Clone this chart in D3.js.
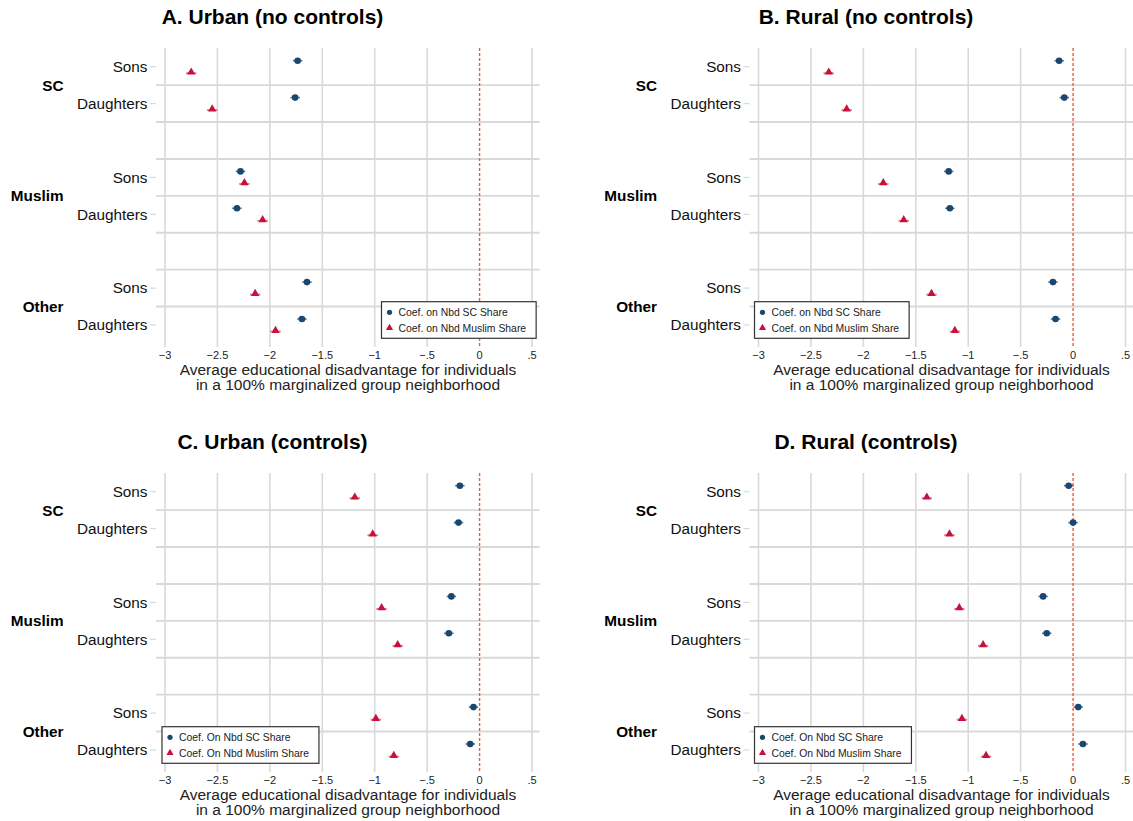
<!DOCTYPE html>
<html>
<head>
<meta charset="utf-8">
<script src="https://cdn.jsdelivr.net/npm/d3@7"></script>
<style>
  html, body { margin: 0; padding: 0; background: #fff; }
  svg { display: block; font-family: "Liberation Sans", Arial, Helvetica, sans-serif; }
</style>
</head>
<body>
<svg id="chart" width="1133" height="821"></svg>
<script>
// ---------------- DATA ----------------
const groups = ["SC", "Muslim", "Other"];
const rowLabels = ["Sons", "Daughters"];
const xTicks = [-3, -2.5, -2, -1.5, -1, -0.5, 0, 0.5];
const xTickLabels = ["\u22123", "\u22122.5", "\u22122", "\u22121.5", "\u22121", "\u2212.5", "0", ".5"];
const panelTitles = ["A. Urban (no controls)", "B. Rural (no controls)", "C. Urban (controls)", "D. Rural (controls)"];
const legendNoControls = ["Coef. on Nbd SC Share", "Coef. on Nbd Muslim Share"];
const legendControls = ["Coef. On Nbd SC Share", "Coef. On Nbd Muslim Share"];
const axisTitle = ["Average educational disadvantage for individuals", "in a 100% marginalized group neighborhood"];

// order: SC Sons, SC Daughters, Muslim Sons, Muslim Daughters, Other Sons, Other Daughters
const urbanNoCtrlSC     = [-1.735, -1.759, -2.280, -2.314, -1.646, -1.694];
const urbanNoCtrlMuslim = [-2.750, -2.550, -2.243, -2.069, -2.140, -1.946];
const ruralNoCtrlSC     = [-0.133, -0.084, -1.186, -1.175, -0.192, -0.167];
const ruralNoCtrlMuslim = [-2.330, -2.159, -1.810, -1.615, -1.350, -1.127];
const urbanCtrlSC       = [-0.188, -0.201, -0.269, -0.293, -0.058, -0.089];
const urbanCtrlMuslim   = [-1.190, -1.019, -0.934, -0.781, -0.989, -0.818];
const ruralCtrlSC       = [-0.042, 0.000, -0.286, -0.251, 0.049, 0.094];
const ruralCtrlMuslim   = [-1.395, -1.179, -1.085, -0.858, -1.060, -0.830];
// approximate 95% CI half-widths
const ciSC     = [0.045, 0.045, 0.045, 0.045, 0.045, 0.045];
const ciMuslim = [0.05, 0.05, 0.05, 0.05, 0.05, 0.05];

// ---------------- STYLE / LAYOUT ----------------
const BLUE = "#1a476f";
const RED = "#c8103c";
const GRID = "#d9d9d9";
const panels = [
  { title: panelTitles[0], sc: urbanNoCtrlSC, mu: urbanNoCtrlMuslim, legend: legendNoControls, ox: 0, oy: 0, legendX: 381.5 },
  { title: panelTitles[1], sc: ruralNoCtrlSC, mu: ruralNoCtrlMuslim, legend: legendNoControls, ox: 593.5, oy: 0, legendX: 161 },
  { title: panelTitles[2], sc: urbanCtrlSC, mu: urbanCtrlMuslim, legend: legendControls, ox: 0, oy: 425, legendX: 162 },
  { title: panelTitles[3], sc: ruralCtrlSC, mu: ruralCtrlMuslim, legend: legendControls, ox: 593.5, oy: 425, legendX: 161 }
];

const svg = d3.select("#chart");
const x = d3.scaleLinear().domain([-3, 0.5]).range([165, 532]);
const y = d3.scaleLinear().domain([0, 7]).range([66.7, 325]);
const slotOf = (i) => Math.floor(i / 2) * 3 + (i % 2);

panels.forEach((p) => {
  const g = svg.append("g").attr("transform", `translate(${p.ox},${p.oy})`);

  // title
  g.append("text").attr("x", 272.5).attr("y", 23.5)
    .attr("text-anchor", "middle").attr("font-size", 21).attr("font-weight", "bold")
    .attr("fill", "#000").text(p.title);

  // vertical gridlines
  g.append("g").selectAll("line").data(xTicks.filter(t => t !== 0)).join("line")
    .attr("x1", d => x(d)).attr("x2", d => x(d))
    .attr("y1", 48).attr("y2", 347)
    .attr("stroke", GRID).attr("stroke-width", 1.6);

  // horizontal separators
  const seps = d3.range(0.5, 7, 1);
  g.append("g").selectAll("line").data(seps).join("line")
    .attr("x1", 156).attr("x2", 539.5)
    .attr("y1", d => y(d)).attr("y2", d => y(d))
    .attr("stroke", GRID).attr("stroke-width", 1.9);

  // zero reference line
  g.append("line").attr("x1", x(0)).attr("x2", x(0)).attr("y1", 48).attr("y2", 347)
    .attr("stroke", "#ee5a3c").attr("stroke-width", 1.4).attr("stroke-dasharray", "3,2");

  // x tick labels
  g.append("g").selectAll("text").data(xTicks).join("text")
    .attr("x", d => x(d)).attr("y", 359)
    .attr("text-anchor", "middle").attr("font-size", 11).attr("fill", "#222")
    .text((d, i) => xTickLabels[i]);

  // axis title
  g.append("g").selectAll("text").data(axisTitle).join("text")
    .attr("x", 348).attr("y", (d, i) => 374.5 + i * 15)
    .attr("text-anchor", "middle").attr("font-size", 15.5).attr("fill", "#222")
    .text(d => d);

  // row labels + ticks
  const rows = d3.range(6);
  g.append("g").selectAll("text").data(rows).join("text")
    .attr("x", 147.5).attr("y", i => y(slotOf(i)))
    .attr("dy", "0.35em").attr("text-anchor", "end").attr("font-size", 15.3).attr("fill", "#111")
    .text(i => rowLabels[i % 2]);
  g.append("g").selectAll("line").data(rows).join("line")
    .attr("x1", 150).attr("x2", 156)
    .attr("y1", i => y(slotOf(i))).attr("y2", i => y(slotOf(i)))
    .attr("stroke", GRID).attr("stroke-width", 1.2);

  // group labels
  g.append("g").selectAll("text").data(groups).join("text")
    .attr("x", 63.5).attr("y", (d, i) => y(i * 3 + 0.5))
    .attr("dy", "0.35em").attr("text-anchor", "end").attr("font-size", 15.3).attr("font-weight", "bold")
    .attr("fill", "#000").text(d => d);

  // SC series: CI + circles
  const scG = g.append("g");
  scG.selectAll("line").data(p.sc).join("line")
    .attr("x1", (d, i) => x(d - ciSC[i])).attr("x2", (d, i) => x(d + ciSC[i]))
    .attr("y1", (d, i) => y(slotOf(i)) - 6).attr("y2", (d, i) => y(slotOf(i)) - 6)
    .attr("stroke", BLUE).attr("stroke-opacity", 0.75).attr("stroke-width", 1.6);
  scG.selectAll("circle").data(p.sc).join("circle")
    .attr("cx", d => x(d)).attr("cy", (d, i) => y(slotOf(i)) - 6)
    .attr("r", 3.3).attr("fill", BLUE);

  // Muslim series: CI + triangles
  const muG = g.append("g");
  muG.selectAll("line").data(p.mu).join("line")
    .attr("x1", (d, i) => x(d - ciMuslim[i])).attr("x2", (d, i) => x(d + ciMuslim[i]))
    .attr("y1", (d, i) => y(slotOf(i)) + 6.5).attr("y2", (d, i) => y(slotOf(i)) + 6.5)
    .attr("stroke", RED).attr("stroke-opacity", 0.55).attr("stroke-width", 1.8);
  const tri = d3.symbol().type(d3.symbolTriangle).size(30);
  muG.selectAll("path").data(p.mu).join("path")
    .attr("d", tri)
    .attr("transform", (d, i) => `translate(${x(d)},${y(slotOf(i)) + 5.5})`)
    .attr("fill", RED);

  // legend
  const lg = g.append("g").attr("transform", `translate(${p.legendX},301.7)`);
  const box = lg.append("rect").attr("x", 0).attr("y", 0).attr("height", 36.6)
    .attr("fill", "#fff").attr("stroke", "#333").attr("stroke-width", 1.2);
  lg.append("circle").attr("cx", 8).attr("cy", 10.6).attr("r", 2.6).attr("fill", BLUE);
  lg.append("path").attr("d", d3.symbol().type(d3.symbolTriangle).size(22))
    .attr("transform", "translate(8,26.2)").attr("fill", RED);
  const texts = lg.selectAll("text.leg").data(p.legend).join("text")
    .attr("class", "leg")
    .attr("x", 17).attr("y", (d, i) => 10.6 + i * 16)
    .attr("dy", "0.35em").attr("font-size", 10.4).attr("fill", "#222")
    .text(d => d);
  let maxW = 0;
  texts.each(function () { maxW = Math.max(maxW, this.getComputedTextLength()); });
  box.attr("width", 17 + maxW + 10);
});
</script>
</body>
</html>
